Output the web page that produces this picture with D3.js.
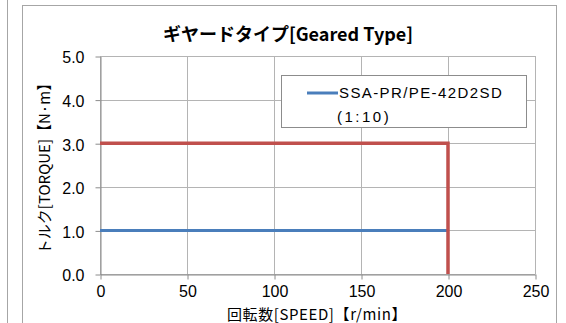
<!DOCTYPE html>
<html>
<head>
<meta charset="utf-8">
<script src="https://cdn.jsdelivr.net/npm/d3@7"></script>
<style>
  body { margin: 0; background: #fff; }
  text { font-family: "Liberation Sans", Arial, sans-serif; }
  .jp { font-family: "Noto Sans CJK JP", sans-serif; }
</style>
</head>
<body>
<div id="chart"></div>
<script>
const width = 566;
const height = 323;

// data
const xTicks = [0, 50, 100, 150, 200, 250];
const yTicks = [0, 1, 2, 3, 4, 5];
const blueSpeed = [0, 200];
const blueTorque = [1.0, 1.0];
const redSpeed = [0, 200, 200];
const redTorque = [3.0, 3.0, 0.0];
const legendLabel = ["SSA-PR/PE-42D2SD", "(1:10)"];

const svg = d3.select("#chart")
    .append("svg")
    .attr("width", width)
    .attr("height", height);

// outer frames
svg.append("line")
    .attr("x1", 7.5).attr("x2", 7.5).attr("y1", 0).attr("y2", height)
    .attr("stroke", "#a6a6a6");
svg.append("rect")
    .attr("x", 22.5).attr("y", 5.5)
    .attr("width", 534).attr("height", 330)
    .attr("fill", "none")
    .attr("stroke", "#a6a6a6");

const x = d3.scaleLinear().domain([0, 250]).range([100, 535]);
const y = d3.scaleLinear().domain([0, 5]).range([274, 56]);

// grid
svg.append("g")
    .selectAll("line")
    .data(yTicks)
    .enter()
    .append("line")
    .attr("x1", x(0)).attr("x2", x(250))
    .attr("y1", d => Math.round(y(d)) + 0.5)
    .attr("y2", d => Math.round(y(d)) + 0.5)
    .attr("stroke", "#b4b4b4");

svg.append("g")
    .selectAll("line")
    .data(xTicks)
    .enter()
    .append("line")
    .attr("x1", d => Math.round(x(d)) + 0.5)
    .attr("x2", d => Math.round(x(d)) + 0.5)
    .attr("y1", y(5)).attr("y2", y(0))
    .attr("stroke", "#b4b4b4");

// axes
const xAxis = d3.axisBottom(x).tickValues(xTicks).tickSizeInner(5).tickSizeOuter(0).tickPadding(6)
    .tickFormat(d3.format("d"));
const yAxis = d3.axisLeft(y).tickValues(yTicks).tickSizeInner(5).tickSizeOuter(0).tickPadding(11)
    .tickFormat(d3.format(".1f"));

const gx = svg.append("g")
    .attr("transform", `translate(0.5,${Math.round(y(0)) + 0.5})`)
    .call(xAxis);
const gy = svg.append("g")
    .attr("transform", `translate(${Math.round(x(0)) + 0.5},0.5)`)
    .call(yAxis);

[gx, gy].forEach(g => {
    g.select(".domain").attr("stroke", "#8c8c8c");
    g.selectAll(".tick line").attr("stroke", "#8c8c8c");
    g.selectAll(".tick text")
        .attr("fill", "#000")
        .attr("font-size", "16px")
        .attr("font-family", "'Liberation Sans', Arial, sans-serif");
});
gy.selectAll(".tick text").attr("dy", "0.4em");

// series
const line = d3.line().x(d => x(d[0])).y(d => y(d[1]));

svg.append("path")
    .datum(blueSpeed.map((s, i) => [s, blueTorque[i]]))
    .attr("d", line)
    .attr("fill", "none")
    .attr("stroke", "#4a7ebb")
    .attr("stroke-width", 3);

svg.append("path")
    .datum(redSpeed.map((s, i) => [s, redTorque[i]]))
    .attr("d", line)
    .attr("fill", "none")
    .attr("stroke", "#c0504d")
    .attr("stroke-width", 3.5);

// title
svg.append("text")
    .attr("class", "jp")
    .attr("x", 288).attr("y", 41)
    .attr("text-anchor", "middle")
    .attr("font-size", "18px")
    .attr("font-weight", "bold")
    .text("ギヤードタイプ[Geared Type]");

// axis titles
svg.append("text")
    .attr("class", "jp")
    .attr("x", 317).attr("y", 320)
    .attr("text-anchor", "middle")
    .attr("font-size", "15px")
    .attr("letter-spacing", "0.6px")
    .text("回転数[SPEED]【r/min】");

svg.append("text")
    .attr("class", "jp")
    .attr("transform", "translate(50,165) rotate(-90)")
    .attr("text-anchor", "middle")
    .attr("font-size", "15px")
    .text("トルク[TORQUE]【N·m】");

// legend
const legend = svg.append("g");
legend.append("rect")
    .attr("x", 281.5).attr("y", 75.5)
    .attr("width", 245).attr("height", 52)
    .attr("fill", "#fff")
    .attr("stroke", "#8c8c8c");
legend.append("line")
    .attr("x1", 307).attr("x2", 338).attr("y1", 93).attr("y2", 93)
    .attr("stroke", "#4a7ebb").attr("stroke-width", 3);
legend.selectAll("text.lg")
    .data(legendLabel)
    .enter()
    .append("text")
    .attr("class", "lg")
    .attr("x", (d, i) => i === 0 ? 339 : 337)
    .attr("y", (d, i) => 98 + i * 24)
    .attr("font-size", "15px")
    .attr("letter-spacing", (d, i) => i === 0 ? "1.4px" : "2.5px")
    .attr("font-family", "'Noto Sans CJK JP', sans-serif")
    .text(d => d);
</script>
</body>
</html>
